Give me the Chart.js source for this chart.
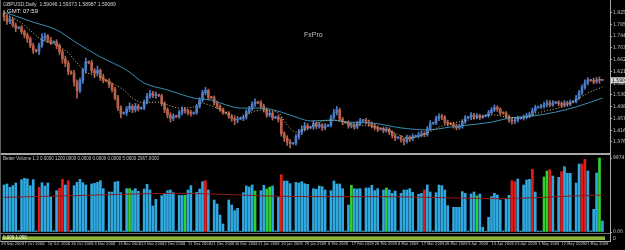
<!DOCTYPE html>
<html>
<head>
<meta charset="utf-8">
<title>GBPUSD,Daily</title>
<script src="https://cdn.jsdelivr.net/npm/chart.js@4.4.1/dist/chart.umd.min.js"></script>
<style>
  html, body { margin: 0; padding: 0; background: #000; }
  body { width: 625px; height: 250px; position: relative; overflow: hidden; font-family: "Liberation Sans", "DejaVu Sans", sans-serif; }
  canvas { position: absolute; left: 0; }
  #priceChart { top: 0; }
  #volumeChart { top: 155px; }
  .txt { position: absolute; white-space: nowrap; color: #c8c8c8; line-height: 1; }
  .line { position: absolute; background: #a8a8a8; }
</style>
</head>
<body>
<canvas id="priceChart" width="625" height="153"></canvas>
<canvas id="volumeChart" width="625" height="95"></canvas>

<div class="line" style="left:0;top:153px;width:611px;height:2px;"></div>
<div class="line" style="left:0;top:233px;width:611px;height:1px;background:#707070;"></div>
<div style="position:absolute;left:2px;top:236px;width:603px;height:3px;background:#8fb43a;border-top:1px solid #4e6b1f;"></div>
<div class="line" style="left:0;top:241px;width:611px;height:1px;"></div>
<div class="line" style="left:610px;top:0;width:1px;height:242px;"></div>
<div class="line" style="left:0;top:0;width:1px;height:242px;background:#606060;"></div>

<div class="txt" style="left:3px;top:2px;font-size:5px;color:#d0d0d0;">GBPUSD,Daily&nbsp; 1.59046 1.59373 1.58987 1.59089</div>
<div class="txt" style="left:7px;top:8px;font-size:6px;color:#e8e8e8;">GMT: 07:59</div>
<div class="txt" style="left:304px;top:31px;font-size:7px;color:#c0c0c0;">FxPro</div>
<div class="txt" style="left:3px;top:157px;font-size:4.5px;">Better Volume 1.3 0.0000 1200.0000 0.0000 0.0000 0.0000 5.0000 2967.0000</div>
<div class="txt" style="left:3px;top:236px;font-size:4.5px;color:#ffffff;">0.000 1.000</div>
<div class="txt" style="left:613px;top:236px;font-size:5px;">0</div>

<script>
// date labels shown under the volume window, one every 8 bars
var dateLabels = ['29 Sep 2008', '7 Oct 2008', '16 Oct 2008', '26 Oct 2008', '4 Nov 2008', '13 Nov 2008',
  '23 Nov 2008', '2 Dec 2008', '11 Dec 2008', '21 Dec 2008', '30 Dec 2008', '11 Jan 2009', '20 Jan 2009',
  '29 Jan 2009', '8 Feb 2009', '17 Feb 2009', '26 Feb 2009', '8 Mar 2009', '17 Mar 2009', '26 Mar 2009',
  '5 Apr 2009', '14 Apr 2009', '23 Apr 2009', '3 May 2009', '12 May 2009', '21 May 2009'];

// price axis labels
var priceTicks = [1.8258, 1.7850, 1.7441, 1.7032, 1.6623, 1.6214, 1.5805, 1.5396, 1.4987, 1.4578, 1.4169, 1.3761];
var volumeTicks = [0, 9974.2];

// daily candles (GBPUSD)
var opens = [1.825,1.812,1.795,1.803,1.782,1.772,1.775,1.760,1.748,1.735,
  1.712,1.695,1.692,1.712,1.738,1.745,1.730,1.722,1.725,1.712,
  1.690,1.665,1.650,1.620,1.615,1.585,1.555,1.590,1.625,1.655,
  1.652,1.625,1.615,1.625,1.600,1.590,1.588,1.575,1.560,1.530,
  1.495,1.475,1.478,1.492,1.500,1.488,1.500,1.492,1.495,1.515,
  1.535,1.545,1.538,1.540,1.537,1.510,1.488,1.470,1.458,1.466,
  1.464,1.478,1.490,1.485,1.478,1.475,1.478,1.500,1.522,1.548,
  1.555,1.532,1.530,1.512,1.500,1.490,1.478,1.476,1.465,1.458,
  1.452,1.456,1.458,1.462,1.482,1.492,1.508,1.515,1.512,1.500,
  1.488,1.470,1.476,1.460,1.462,1.455,1.405,1.390,1.376,1.370,
  1.372,1.395,1.410,1.420,1.432,1.425,1.428,1.440,1.430,1.436,
  1.425,1.432,1.434,1.462,1.478,1.488,1.455,1.445,1.443,1.432,
  1.434,1.428,1.440,1.450,1.452,1.445,1.440,1.432,1.426,1.420,
  1.422,1.416,1.420,1.410,1.398,1.390,1.391,1.384,1.378,1.392,
  1.386,1.395,1.397,1.400,1.405,1.402,1.422,1.440,1.442,1.458,
  1.465,1.462,1.445,1.440,1.438,1.432,1.426,1.430,1.446,1.460,
  1.462,1.470,1.462,1.468,1.462,1.466,1.468,1.478,1.488,1.496,
  1.490,1.478,1.476,1.465,1.452,1.448,1.452,1.458,1.460,1.462,
  1.468,1.472,1.485,1.496,1.498,1.500,1.505,1.512,1.505,1.512,
  1.514,1.510,1.504,1.512,1.508,1.515,1.517,1.530,1.548,1.566,
  1.582,1.592,1.590,1.585,1.592,1.5905];
var highs = [1.834,1.818,1.812,1.808,1.790,1.778,1.781,1.766,1.755,1.742,
  1.720,1.699,1.720,1.752,1.755,1.750,1.740,1.728,1.732,1.718,
  1.698,1.675,1.658,1.624,1.625,1.592,1.598,1.632,1.668,1.658,
  1.660,1.632,1.640,1.630,1.612,1.593,1.596,1.582,1.566,1.538,
  1.502,1.481,1.500,1.512,1.506,1.510,1.508,1.498,1.522,1.545,
  1.556,1.552,1.550,1.543,1.542,1.516,1.495,1.478,1.474,1.469,
  1.486,1.498,1.496,1.490,1.486,1.481,1.506,1.530,1.556,1.566,
  1.560,1.535,1.536,1.518,1.505,1.494,1.480,1.482,1.470,1.464,
  1.462,1.461,1.470,1.488,1.500,1.516,1.526,1.518,1.520,1.508,
  1.494,1.484,1.482,1.465,1.470,1.462,1.412,1.398,1.384,1.375,
  1.402,1.420,1.432,1.444,1.440,1.431,1.450,1.446,1.444,1.440,
  1.440,1.437,1.470,1.490,1.500,1.494,1.462,1.448,1.450,1.442,
  1.440,1.448,1.458,1.455,1.458,1.452,1.446,1.438,1.432,1.425,
  1.428,1.428,1.425,1.415,1.404,1.394,1.398,1.390,1.400,1.398,
  1.404,1.400,1.410,1.414,1.412,1.430,1.450,1.445,1.466,1.474,
  1.472,1.468,1.452,1.443,1.444,1.438,1.438,1.454,1.468,1.465,
  1.478,1.476,1.475,1.472,1.470,1.471,1.486,1.496,1.505,1.502,
  1.495,1.481,1.482,1.470,1.460,1.460,1.466,1.463,1.470,1.476,
  1.480,1.494,1.504,1.501,1.508,1.515,1.522,1.520,1.520,1.517,
  1.520,1.516,1.520,1.518,1.522,1.520,1.538,1.556,1.575,1.592,
  1.600,1.594,1.598,1.600,1.602,1.5937];
var lows = [1.798,1.785,1.788,1.776,1.760,1.769,1.752,1.738,1.722,1.704,
  1.684,1.688,1.680,1.705,1.728,1.722,1.715,1.719,1.700,1.680,
  1.650,1.638,1.610,1.611,1.570,1.528,1.548,1.580,1.615,1.648,
  1.615,1.600,1.608,1.590,1.582,1.585,1.566,1.550,1.522,1.485,
  1.460,1.472,1.468,1.482,1.478,1.480,1.484,1.489,1.488,1.508,
  1.528,1.530,1.528,1.534,1.502,1.478,1.460,1.446,1.450,1.461,
  1.458,1.470,1.476,1.470,1.466,1.472,1.472,1.494,1.515,1.540,
  1.522,1.527,1.504,1.492,1.482,1.472,1.473,1.458,1.448,1.436,
  1.442,1.453,1.450,1.455,1.475,1.486,1.500,1.509,1.492,1.480,
  1.462,1.464,1.452,1.457,1.445,1.396,1.378,1.364,1.355,1.367,
  1.365,1.386,1.402,1.414,1.418,1.422,1.420,1.422,1.424,1.416,
  1.418,1.429,1.428,1.455,1.470,1.448,1.436,1.440,1.424,1.425,
  1.420,1.422,1.434,1.447,1.438,1.432,1.425,1.418,1.412,1.417,
  1.408,1.410,1.402,1.390,1.380,1.387,1.375,1.366,1.372,1.378,
  1.380,1.392,1.390,1.394,1.394,1.396,1.416,1.437,1.436,1.450,
  1.454,1.438,1.432,1.435,1.424,1.418,1.420,1.424,1.440,1.457,
  1.455,1.455,1.456,1.454,1.458,1.463,1.462,1.472,1.482,1.482,
  1.470,1.473,1.458,1.444,1.438,1.440,1.446,1.455,1.452,1.456,
  1.460,1.466,1.478,1.493,1.492,1.494,1.498,1.498,1.500,1.509,
  1.502,1.496,1.498,1.500,1.502,1.512,1.512,1.524,1.540,1.560,
  1.575,1.587,1.578,1.580,1.580,1.5899];
var closes = [1.812,1.795,1.803,1.782,1.772,1.775,1.760,1.748,1.735,1.712,
  1.695,1.692,1.712,1.738,1.745,1.730,1.722,1.725,1.712,1.690,
  1.665,1.650,1.620,1.615,1.585,1.555,1.590,1.625,1.655,1.652,
  1.625,1.615,1.625,1.600,1.590,1.588,1.575,1.560,1.530,1.495,
  1.475,1.478,1.492,1.500,1.488,1.500,1.492,1.495,1.515,1.535,
  1.545,1.538,1.540,1.537,1.510,1.488,1.470,1.458,1.466,1.464,
  1.478,1.490,1.485,1.478,1.475,1.478,1.500,1.522,1.548,1.555,
  1.532,1.530,1.512,1.500,1.490,1.478,1.476,1.465,1.458,1.452,
  1.456,1.458,1.462,1.482,1.492,1.508,1.515,1.512,1.500,1.488,
  1.470,1.476,1.460,1.462,1.455,1.405,1.390,1.376,1.370,1.372,
  1.395,1.410,1.420,1.432,1.425,1.428,1.440,1.430,1.436,1.425,
  1.432,1.434,1.462,1.478,1.488,1.455,1.445,1.443,1.432,1.434,
  1.428,1.440,1.450,1.452,1.445,1.440,1.432,1.426,1.420,1.422,
  1.416,1.420,1.410,1.398,1.390,1.391,1.384,1.378,1.392,1.386,
  1.395,1.397,1.400,1.405,1.402,1.422,1.440,1.442,1.458,1.465,
  1.462,1.445,1.440,1.438,1.432,1.426,1.430,1.446,1.460,1.462,
  1.470,1.462,1.468,1.462,1.466,1.468,1.478,1.488,1.496,1.490,
  1.478,1.476,1.465,1.452,1.448,1.452,1.458,1.460,1.462,1.468,
  1.472,1.485,1.496,1.498,1.500,1.505,1.512,1.505,1.512,1.514,
  1.510,1.504,1.512,1.508,1.515,1.517,1.530,1.548,1.566,1.582,
  1.592,1.590,1.585,1.592,1.5905,1.5909];

// moving averages (bar index, price)
var maSlowIdx = [0,10,18,25,33,42,48,56,65,71,74,81,88,95,101,105,112,118,126,136,145,153,159,167,173,181,189,196,205];
var maSlow = [1.828,1.793,1.766,1.720,1.672,1.626,1.581,1.557,1.529,1.522,1.512,1.494,1.494,1.480,1.459,1.449,1.452,1.445,1.442,1.425,1.418,1.428,1.435,1.445,1.459,1.466,1.480,1.498,1.529];
var maFastIdx = [0,6,10,13,18,22,25,28,33,36,41,44,48,52,56,60,65,67,72,76,81,84,88,94,97,100,104,108,113,118,122,129,133,139,145,149,154,159,163,168,172,177,184,191,195,200,205];
var maFast = [1.825,1.790,1.755,1.731,1.713,1.686,1.651,1.619,1.602,1.585,1.557,1.529,1.512,1.515,1.505,1.494,1.498,1.512,1.498,1.480,1.463,1.477,1.487,1.477,1.435,1.411,1.425,1.445,1.452,1.442,1.435,1.425,1.411,1.390,1.407,1.428,1.442,1.452,1.463,1.470,1.463,1.459,1.480,1.498,1.515,1.546,1.567];

// tick volume per bar
var volumes = [6336,6471,6022,6247,6606,180,7055,7235,7145,6247,
  7055,150,6022,6651,6202,6606,4764,160,5573,5887,
  7100,6336,6921,200,6247,6696,7100,6651,6336,170,
  6471,6561,6696,6921,5842,150,5393,5393,6741,6831,
  5303,140,5842,5842,5573,5842,5483,130,5797,6426,
  5663,3506,4404,120,4899,5213,5573,5663,5303,140,
  4944,4944,4944,5663,6247,150,5348,5797,6786,6921,
  5663,120,4315,3775,2293,1080,100,4315,3641,2877,
  3191,110,5303,6202,6067,6336,5528,130,5573,6291,
  5797,6067,6202,150,4674,7729,6876,6876,6516,160,
  6696,6606,6786,6516,6426,140,5842,5752,6202,6112,
  5663,130,5573,6876,6471,6471,5842,140,3641,6291,
  5842,5797,5842,140,5932,5932,6291,5573,5842,130,
  5663,5932,5663,5213,5528,150,5213,5663,5663,5842,
  5348,140,5078,5213,5663,6336,5393,140,5303,6336,
  6247,5663,3551,120,3326,3326,3326,5438,5213,130,
  5123,5393,4854,5123,630,100,1978,4764,5213,4989,
  4315,130,4539,4944,6921,6786,7145,140,6336,7010,
  7100,8448,5393,130,140,7415,8224,8403,7550,150,
  7370,8134,8808,7909,7909,140,6600,9167,9167,9796,
  8224,140,3057,7954,9974.2,1484];
var climaxBars = [12, 19, 20, 22, 69, 95, 144, 174, 175, 181, 187, 191, 198, 199];
var churnBars = [43, 62, 86, 90, 91, 119, 131, 162, 185, 186, 204];
var volMaIdx = [0, 20, 40, 58, 75, 90, 110, 130, 150, 170, 185, 195, 205];
var volMa = [4674, 4854, 5078, 5213, 5078, 4854, 4764, 4764, 4629, 4494, 4674, 4854, 4989];

var xMin = -0.7, xMax = 207.6;
var axisFont = '"Liberation Sans Narrow", "DejaVu Sans Condensed", sans-serif';
var bullColor = '#4d7cc8';
var bearColor = '#b8624d';

function candleColor(ctx) {
	return closes[ctx.dataIndex] >= opens[ctx.dataIndex] ? bullColor : bearColor;
}

// no extra room for labels sticking out of the plot
function noPadding(s) {
	s.paddingLeft = 0;
	s.paddingRight = 0;
	s.paddingTop = 0;
	s.paddingBottom = 0;
}

// white box with the last price on the right scale
var lastPricePlugin = {
	id: 'lastPrice',
	afterDraw: function(chart) {
		var last = closes[closes.length - 1];
		var y = chart.scales.y.getPixelForValue(last);
		var c = chart.ctx;
		c.save();
		c.fillStyle = '#d8d8d8';
		c.fillRect(611, y - 3, 14, 6);
		c.fillStyle = '#000';
		c.font = '5px ' + axisFont;
		c.textBaseline = 'middle';
		c.fillText(last.toFixed(4), 612, y);
		c.restore();
	}
};

new Chart(document.getElementById('priceChart'), {
	type: 'bar',
	data: {
		datasets: [{
			label: 'High-Low',
			data: closes.map(function(c, i) { return { x: i, y: [lows[i], highs[i]] }; }),
			backgroundColor: candleColor,
			barThickness: 1,
			grouped: false,
			order: 3
		}, {
			label: 'Open-Close',
			data: closes.map(function(c, i) { return { x: i, y: [opens[i], c] }; }),
			backgroundColor: candleColor,
			barThickness: 2,
			minBarLength: 1,
			grouped: false,
			order: 2
		}, {
			type: 'line',
			label: 'MA slow',
			data: maSlowIdx.map(function(x, k) { return { x: x, y: maSlow[k] }; }),
			borderColor: '#3b8db3',
			borderWidth: 1,
			pointRadius: 0,
			cubicInterpolationMode: 'monotone',
			order: 1
		}, {
			type: 'line',
			label: 'MA fast',
			data: maFastIdx.map(function(x, k) { return { x: x, y: maFast[k] }; }),
			borderColor: '#d8c472',
			borderDash: [1, 2],
			borderWidth: 1,
			pointRadius: 0,
			cubicInterpolationMode: 'monotone',
			order: 0
		}]
	},
	options: {
		responsive: false,
		animation: false,
		events: [],
		layout: { autoPadding: false, padding: { left: 2, top: 2, right: 0, bottom: 1 } },
		plugins: { legend: { display: false }, tooltip: { enabled: false } },
		scales: {
			x: {
				type: 'linear',
				min: xMin,
				max: xMax,
				offset: false,
				bounds: 'data',
				grid: { display: false, drawTicks: false },
				border: { display: false },
				ticks: { display: false },
				afterFit: function(s) { s.height = 0; noPadding(s); }
			},
			y: {
				position: 'right',
				min: 1.3411,
				max: 1.8631,
				grid: { display: true, drawOnChartArea: false, drawTicks: true, tickLength: 2, color: '#a8a8a8' },
				border: { display: false },
				afterBuildTicks: function(s) { s.ticks = priceTicks.map(function(v) { return { value: v }; }); },
				afterFit: function(s) { s.width = 15; noPadding(s); },
				ticks: {
					color: '#c8c8c8',
					font: { size: 5, family: axisFont },
					padding: 1,
					callback: function(v) { return Number(v).toFixed(4); }
				}
			}
		}
	},
	plugins: [lastPricePlugin]
});

new Chart(document.getElementById('volumeChart'), {
	type: 'bar',
	data: {
		datasets: [{
			label: 'Better Volume',
			data: volumes.map(function(v, i) { return { x: i, y: v }; }),
			backgroundColor: function(ctx) {
				if (climaxBars.indexOf(ctx.dataIndex) >= 0) return '#e01c1c';
				if (churnBars.indexOf(ctx.dataIndex) >= 0) return '#2fd12f';
				return '#2fa9df';
			},
			barThickness: 2,
			order: 2
		}, {
			type: 'line',
			label: 'Average',
			data: volMaIdx.map(function(x, k) { return { x: x, y: volMa[k] }; }),
			borderColor: '#8e1b1b',
			borderWidth: 1,
			pointRadius: 0,
			cubicInterpolationMode: 'monotone',
			order: 1
		}]
	},
	options: {
		responsive: false,
		animation: false,
		events: [],
		layout: { autoPadding: false, padding: { left: 2, top: 0, right: 0, bottom: 0 } },
		plugins: { legend: { display: false }, tooltip: { enabled: false } },
		scales: {
			x: {
				type: 'linear',
				min: xMin,
				max: xMax,
				offset: false,
				bounds: 'data',
				grid: { display: false, drawTicks: false },
				border: { display: false },
				afterBuildTicks: function(s) {
					s.ticks = dateLabels.map(function(d, k) { return { value: 8 * k - 1 }; });
				},
				afterFit: function(s) { s.height = 18; noPadding(s); },
				ticks: {
					autoSkip: false,
					maxRotation: 0,
					align: 'start',
					padding: 10,
					color: '#c8c8c8',
					font: { size: 4, family: axisFont },
					callback: function(v, k) { return dateLabels[k]; }
				}
			},
			y: {
				position: 'right',
				min: 0,
				max: 10380,
				grid: { display: true, drawOnChartArea: false, drawTicks: true, tickLength: 2, color: '#a8a8a8' },
				border: { display: false },
				afterBuildTicks: function(s) { s.ticks = volumeTicks.map(function(v) { return { value: v }; }); },
				afterFit: function(s) { s.width = 15; noPadding(s); },
				ticks: {
					color: '#c8c8c8',
					font: { size: 5, family: axisFont },
					padding: 1,
					callback: function(v) { return v === 0 ? '0.00' : Number(v).toFixed(1); }
				}
			}
		}
	}
});
</script>
</body>
</html>
